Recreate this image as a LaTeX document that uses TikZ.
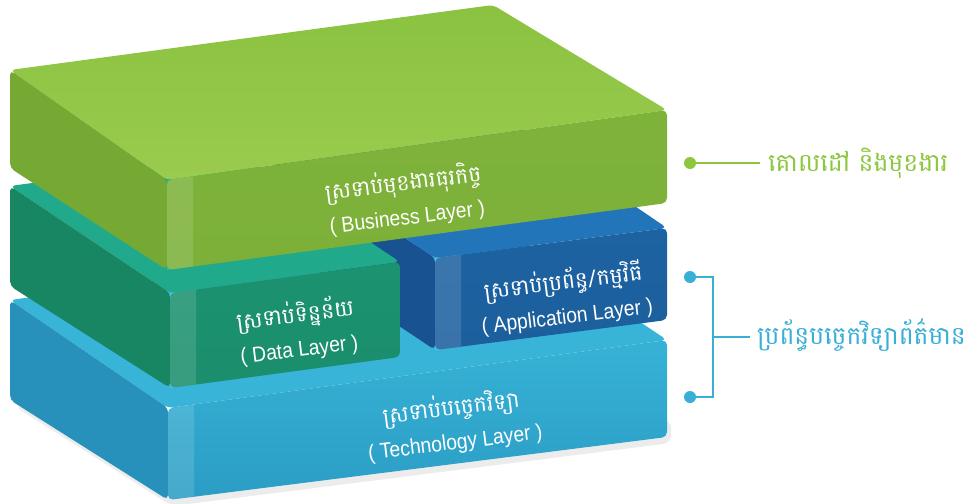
\documentclass[tikz,border=0pt]{standalone}
\usepackage{fontspec}
\setmainfont{Liberation Sans}
\newfontfamily\khmerfont[Script=Khmer]{Battambang}
\newfontfamily\narrowfont[FakeStretch=0.9]{Liberation Sans}

\definecolor{bizTop}{HTML}{8BC240}
\definecolor{bizLight}{HTML}{9ACB4E}
\definecolor{bizFront}{HTML}{7CB039}
\definecolor{bizSide}{HTML}{76A934}
\definecolor{dataTop}{HTML}{20A98A}
\definecolor{dataFront}{HTML}{1B8E6C}
\definecolor{dataSide}{HTML}{188563}
\definecolor{appTop}{HTML}{2275B8}
\definecolor{appFront}{HTML}{1C5F9D}
\definecolor{appSide}{HTML}{195290}
\definecolor{techTop}{HTML}{38B4D8}
\definecolor{techFront}{HTML}{2B9DC5}
\definecolor{techSide}{HTML}{2791BC}
\definecolor{goalGreen}{HTML}{8DC63F}
\definecolor{itBlue}{HTML}{3AAFD6}

\newcommand{\khm}{\khmerfont\fontsize{22}{34}\selectfont}
\newcommand{\lat}{\narrowfont\fontsize{21.5}{34}\selectfont}

\begin{document}
\begin{tikzpicture}[x=1pt,y=-1pt,
    face/.style={rounded corners=5pt},
    layer/.style={text=white,align=center,rotate=7,inner sep=0pt,
      font=\fontsize{21.5}{34}\selectfont},
    dot/.style={circle,minimum size=12pt,inner sep=0pt},
    side/.style={inner sep=0pt,anchor=west,font=\khmerfont\fontsize{25}{28}\selectfont}]
  \useasboundingbox (0,0) rectangle (968,503);

  % technology layer
  \fill[gray!30,opacity=.5,rounded corners=8pt] (14,406) -- (172,506) -- (671,443) -- (671,420) -- cycle;
  \fill[face,techTop] (10,300) -- (507,233) -- (667,340) -- (168,408) -- cycle;
  \fill[face,techSide] (10,300) -- (168,408) -- (168,500) -- (10,400) -- cycle;
  \shade[face,top color=techTop!90!techFront,bottom color=techFront] (168,408) -- (667,340) -- (667,437) -- (168,500) -- cycle;

  % application layer
  \fill[face,appSide] (275,151) -- (435,258) -- (435,350) -- (275,243) -- cycle;
  \fill[face,appTop] (275,151) -- (507,119) -- (667,228) -- (435,258) -- cycle;
  \shade[face,top color=appFront!85!appTop,bottom color=appFront] (435,258) -- (667,228) -- (667,320) -- (435,350) -- cycle;

  % data layer
  \fill[face,dataTop] (10,186) -- (240,155) -- (400,262) -- (170,293) -- cycle;
  \fill[face,dataSide] (10,186) -- (170,293) -- (170,388) -- (10,286) -- cycle;
  \shade[face,top color=dataFront!85!dataTop,bottom color=dataFront] (170,293) -- (400,262) -- (400,357) -- (170,388) -- cycle;

  % business layer
  \shade[face,top color=bizTop,bottom color=bizLight] (10,70) -- (493,5) -- (667,110) -- (167,180) -- cycle;
  \fill[face,bizSide] (10,70) -- (167,180) -- (167,270) -- (10,168) -- cycle;
  \shade[face,top color=bizFront!85!bizTop,bottom color=bizFront] (167,180) -- (667,110) -- (667,203) -- (167,270) -- cycle;

  % light band on the front corners
  \foreach \x/\ya/\yb in {167/180/270,170/293/388,435/258/350,168/408/500}
    \fill[white,opacity=.13] (\x,\ya) -- (\x+26,\ya-3.6) -- (\x+26,\yb-3.6) -- (\x,\yb) -- cycle;

  \node[layer] (biz) at (405,199) {{\khm ស្រទាប់មុខងារធុរកិច្ច}\\{\lat ( Business Layer )}};
  \node[layer] (data) at (297,331) {{\khm ស្រទាប់ទិន្នន័យ}\\{\lat ( Data Layer )}};
  \node[layer] (app) at (565,298) {{\khm ស្រទាប់ប្រព័ន្ធ/កម្មវិធី}\\{\lat ( Application Layer )}};
  \node[layer] (tech) at (453,424) {{\khm ស្រទាប់បច្ចេកវិទ្យា}\\{\lat ( Technology Layer )}};

  % labels on the right
  \node[dot,fill=goalGreen] (gdot) at (690,163) {};
  \node[side,text=goalGreen] (goal) at (768,163) {គោលដៅ និងមុខងារ};
  \coordinate (gend) at (760,163);
  \draw[goalGreen,line width=1.5pt] (gdot) -- (gend);

  \node[dot,fill=itBlue] (t1) at (690,277) {};
  \node[dot,fill=itBlue] (t2) at (690,397) {};
  \coordinate (brk) at (713,337);
  \coordinate (bend) at (750,337);
  \node[side,text=itBlue] (it) at (757,335) {ប្រព័ន្ធបច្ចេកវិទ្យាព័ត៌មាន};
  \draw[itBlue,line width=1.5pt] (t1) -| (brk) |- (t2);
  \draw[itBlue,line width=1.5pt] (brk) -- (bend);
\end{tikzpicture}
\end{document}
